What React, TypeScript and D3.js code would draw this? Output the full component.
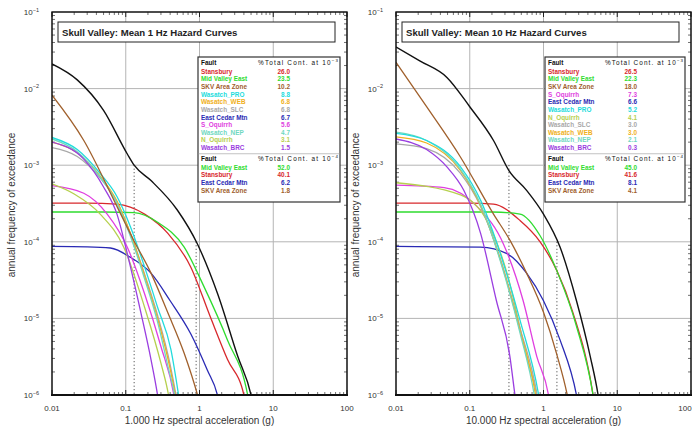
import React from 'react';
import * as d3 from 'd3';

// ---------- axis ticks ----------
const xTickValues = [0.01, 0.1, 1, 10, 100];
const xTickLabels = ['0.01', '0.1', '1', '10', '100'];
const yTickExponents = [-1, -2, -3, -4, -5, -6];

// ---------- fault names & colours ----------
const faultNames = ['Stansbury', 'Mid Valley East', 'SKV Area Zone', 'Wasatch_PRO', 'Wasatch_WEB', 'Wasatch_SLC', 'East Cedar Mtn', 'S_Oquirrh', 'Wasatch_NEP', 'N_Oquirrh', 'Wasatch_BRC'];
const faultColors = ['#d8282c', '#2fdc2f', '#a0602c', '#22dcdc', '#f0b020', '#a8a8a8', '#2a2ab4', '#e03ee0', '#6fd8bf', '#b6d04e', '#9a3ee0'];

// ---------- 1 Hz hazard curves [g, annual freq] ----------
const hz1Total: [number, number][] = [[0.01, 2.1e-2], [0.022, 1.3e-2], [0.05, 5.2e-3], [0.105, 1.4e-3], [0.13, 1.0e-3], [0.22, 6.3e-4], [0.5, 2.6e-4], [0.93, 9.5e-5], [1.76, 2.1e-5], [3.3, 3.2e-6], [5, 1e-6], [6, 4e-7]];
const hz1Stansbury: [number, number][] = [[0.01, 3.2e-4], [0.03, 3.2e-4], [0.076, 3.1e-4], [0.18, 2.3e-4], [0.37, 1.3e-4], [0.76, 4.7e-5], [1.4, 1.05e-5], [2.4, 2.9e-6], [4, 1e-6], [4.8, 4e-7]];
const hz1MidValley: [number, number][] = [[0.01, 2.45e-4], [0.05, 2.45e-4], [0.13, 2.4e-4], [0.27, 1.8e-4], [0.62, 8.5e-5], [1.15, 2.6e-5], [2.4, 5.2e-6], [4.5, 1e-6], [5.3, 4e-7]];
const hz1SKV: [number, number][] = [[0.01, 8.2e-3], [0.027, 2.1e-3], [0.076, 2.9e-4], [0.128, 1.05e-4], [0.22, 3.9e-5], [0.37, 1.2e-5], [0.62, 3.5e-6], [0.94, 1e-6], [1.2, 4e-7]];
const hz1PRO: [number, number][] = [[0.01, 2.3e-3], [0.022, 1.6e-3], [0.045, 7.8e-4], [0.076, 3.9e-4], [0.115, 1.6e-4], [0.18, 4.7e-5], [0.27, 1.4e-5], [0.41, 3.9e-6], [0.52, 1e-6], [0.6, 4e-7]];
const hz1WEB: [number, number][] = [[0.01, 2.0e-3], [0.022, 1.45e-3], [0.045, 7.2e-4], [0.076, 3.4e-4], [0.115, 1.3e-4], [0.18, 3.6e-5], [0.27, 1.0e-5], [0.4, 2.2e-6], [0.47, 1e-6], [0.55, 4e-7]];
const hz1SLC: [number, number][] = [[0.01, 1.7e-3], [0.022, 1.3e-3], [0.045, 6.8e-4], [0.076, 3.3e-4], [0.115, 1.3e-4], [0.18, 3.8e-5], [0.27, 1.1e-5], [0.4, 2.5e-6], [0.48, 1e-6], [0.56, 4e-7]];
const hz1ECM: [number, number][] = [[0.01, 8.7e-5], [0.03, 8.6e-5], [0.062, 8.3e-5], [0.115, 6.3e-5], [0.22, 3.9e-5], [0.4, 1.7e-5], [0.76, 6.3e-6], [1.28, 2.1e-6], [1.75, 1e-6], [2.1, 4e-7]];
const hz1SOquirrh: [number, number][] = [[0.01, 5.4e-4], [0.027, 4.3e-4], [0.056, 2.3e-4], [0.105, 8.5e-5], [0.18, 2.1e-5], [0.3, 4.3e-6], [0.45, 1e-6], [0.52, 4e-7]];
const hz1NEP: [number, number][] = [[0.01, 2.2e-3], [0.022, 1.5e-3], [0.045, 7.0e-4], [0.076, 3.2e-4], [0.115, 1.2e-4], [0.18, 3.3e-5], [0.27, 9e-6], [0.38, 2.2e-6], [0.46, 1e-6], [0.53, 4e-7]];
const hz1NOquirrh: [number, number][] = [[0.01, 5.7e-4], [0.02, 4.2e-4], [0.045, 2.3e-4], [0.094, 8.5e-5], [0.18, 1.4e-5], [0.3, 2.6e-6], [0.38, 1e-6], [0.44, 4e-7]];
const hz1BRC: [number, number][] = [[0.01, 2.0e-3], [0.027, 1.2e-3], [0.05, 5.2e-4], [0.076, 2.3e-4], [0.105, 7e-5], [0.16, 1.2e-5], [0.22, 2.9e-6], [0.27, 1e-6], [0.31, 4e-7]];

// ---------- 10 Hz hazard curves ----------
const hz10Total: [number, number][] = [[0.01, 3.5e-2], [0.021, 2.3e-2], [0.049, 1.4e-2], [0.1, 5.8e-3], [0.21, 2.1e-3], [0.34, 8.5e-4], [0.59, 4.7e-4], [1, 2.3e-4], [1.68, 8.5e-5], [2.8, 1.7e-5], [4.3, 3.2e-6], [5.5, 1e-6], [6.3, 4e-7]];
const hz10Stansbury: [number, number][] = [[0.01, 3.2e-4], [0.1, 3.2e-4], [0.21, 3.1e-4], [0.48, 1.9e-4], [0.9, 1e-4], [1.5, 4.3e-5], [2.5, 1.2e-5], [4.7, 1e-6], [5.4, 4e-7]];
const hz10MidValley: [number, number][] = [[0.01, 2.45e-4], [0.2, 2.45e-4], [0.48, 2.3e-4], [0.9, 1.2e-4], [1.5, 4.3e-5], [2.8, 7.9e-6], [4.7, 1e-6], [5.4, 4e-7]];
const hz10SKV: [number, number][] = [[0.01, 2.2e-2], [0.026, 5.8e-3], [0.074, 1.3e-3], [0.21, 2.3e-4], [0.35, 1.05e-4], [0.59, 3.9e-5], [1, 1.2e-5], [1.5, 3.5e-6], [2.1, 1e-6], [2.5, 4e-7]];
const hz10SOquirrh: [number, number][] = [[0.01, 5.5e-4], [0.045, 5.1e-4], [0.125, 2.9e-4], [0.29, 9.1e-5], [0.53, 1.7e-5], [0.81, 3.2e-6], [1.17, 1e-6], [1.35, 4e-7]];
const hz10ECM: [number, number][] = [[0.01, 8.7e-5], [0.14, 8.5e-5], [0.32, 7e-5], [0.59, 3.9e-5], [1, 1.7e-5], [1.68, 5.2e-6], [2.8, 1e-6], [3.3, 4e-7]];
const hz10PRO: [number, number][] = [[0.01, 2.6e-3], [0.026, 2.1e-3], [0.075, 9.5e-4], [0.14, 3.5e-4], [0.26, 7e-5], [0.48, 9.5e-6], [0.86, 1e-6], [1.0, 4e-7]];
const hz10NOquirrh: [number, number][] = [[0.01, 5.9e-4], [0.075, 4.1e-4], [0.17, 1.9e-4], [0.32, 3.9e-5], [0.59, 3.2e-6], [0.81, 1e-6], [0.95, 4e-7]];
const hz10SLC: [number, number][] = [[0.01, 1.9e-3], [0.026, 1.65e-3], [0.075, 7.8e-4], [0.14, 2.9e-4], [0.26, 6e-5], [0.48, 7.5e-6], [0.82, 1e-6], [0.95, 4e-7]];
const hz10WEB: [number, number][] = [[0.01, 2.35e-3], [0.026, 1.95e-3], [0.075, 8.5e-4], [0.14, 3.0e-4], [0.26, 5.8e-5], [0.48, 7e-6], [0.78, 1e-6], [0.9, 4e-7]];
const hz10NEP: [number, number][] = [[0.01, 2.7e-3], [0.026, 2.1e-3], [0.075, 8.8e-4], [0.14, 3.1e-4], [0.26, 5.6e-5], [0.48, 6.5e-6], [0.75, 1e-6], [0.87, 4e-7]];
const hz10BRC: [number, number][] = [[0.01, 2.2e-3], [0.026, 1.6e-3], [0.049, 9.5e-4], [0.083, 4.7e-4], [0.14, 1.3e-4], [0.23, 1.7e-5], [0.35, 3.2e-6], [0.41, 1e-6], [0.47, 4e-7]];

// ---------- dotted markers [g, top freq] ----------
const hz1Markers: [number, number][] = [[0.13, 1e-3], [0.9, 1e-4]];
const hz10Markers: [number, number][] = [[0.34, 1e-3], [1.52, 1e-4]];

// ---------- legends ----------
const hz1LegendANames = ['Stansbury', 'Mid Valley East', 'SKV Area Zone', 'Wasatch_PRO', 'Wasatch_WEB', 'Wasatch_SLC', 'East Cedar Mtn', 'S_Oquirrh', 'Wasatch_NEP', 'N_Oquirrh', 'Wasatch_BRC'];
const hz1LegendAValues = ['26.0', '23.5', '10.2', '8.8', '6.8', '6.8', '6.7', '5.6', '4.7', '3.1', '1.5'];
const hz1LegendBNames = ['Mid Valley East', 'Stansbury', 'East Cedar Mtn', 'SKV Area Zone'];
const hz1LegendBValues = ['52.0', '40.1', '6.2', '1.8'];
const hz10LegendANames = ['Stansbury', 'Mid Valley East', 'SKV Area Zone', 'S_Oquirrh', 'East Cedar Mtn', 'Wasatch_PRO', 'N_Oquirrh', 'Wasatch_SLC', 'Wasatch_WEB', 'Wasatch_NEP', 'Wasatch_BRC'];
const hz10LegendAValues = ['26.5', '22.3', '18.0', '7.3', '6.6', '5.2', '4.1', '3.0', '3.0', '2.1', '0.3'];
const hz10LegendBNames = ['Mid Valley East', 'Stansbury', 'East Cedar Mtn', 'SKV Area Zone'];
const hz10LegendBValues = ['45.0', '41.6', '8.1', '4.1'];

const colorOf = (name: string) => faultColors[faultNames.indexOf(name)];

const hz1Series = [
  { name: 'Stansbury', data: hz1Stansbury },
  { name: 'Mid Valley East', data: hz1MidValley },
  { name: 'East Cedar Mtn', data: hz1ECM },
  { name: 'S_Oquirrh', data: hz1SOquirrh },
  { name: 'N_Oquirrh', data: hz1NOquirrh },
  { name: 'Wasatch_SLC', data: hz1SLC },
  { name: 'Wasatch_WEB', data: hz1WEB },
  { name: 'Wasatch_NEP', data: hz1NEP },
  { name: 'Wasatch_PRO', data: hz1PRO },
  { name: 'Wasatch_BRC', data: hz1BRC },
  { name: 'SKV Area Zone', data: hz1SKV },
];
const hz10Series = [
  { name: 'Stansbury', data: hz10Stansbury },
  { name: 'Mid Valley East', data: hz10MidValley },
  { name: 'East Cedar Mtn', data: hz10ECM },
  { name: 'S_Oquirrh', data: hz10SOquirrh },
  { name: 'N_Oquirrh', data: hz10NOquirrh },
  { name: 'Wasatch_SLC', data: hz10SLC },
  { name: 'Wasatch_WEB', data: hz10WEB },
  { name: 'Wasatch_NEP', data: hz10NEP },
  { name: 'Wasatch_PRO', data: hz10PRO },
  { name: 'Wasatch_BRC', data: hz10BRC },
  { name: 'SKV Area Zone', data: hz10SKV },
];

const FONT = '"Liberation Sans", Arial, Helvetica, sans-serif';

type PanelProps = {
  id: string;
  x0: number;
  title: string;
  xlabel: string;
  series: { name: string; data: [number, number][] }[];
  total: [number, number][];
  markers: [number, number][];
  legANames: string[];
  legAValues: string[];
  legBNames: string[];
  legBValues: string[];
  legLeft: number;
  legRight: number;
  lastLabelShift: number;
};

function Panel(p: PanelProps) {
  const W = 295;
  const top = 12;
  const bottom = 395;
  const x = d3.scaleLog().domain([0.01, 100]).range([p.x0, p.x0 + W]);
  const y = d3.scaleLog().domain([1e-6, 1e-1]).range([bottom, top]);
  const line = d3
    .line<[number, number]>()
    .x((d) => x(d[0]))
    .y((d) => y(d[1]))
    .curve(d3.curveMonotoneX);

  const xMinor: number[] = [];
  for (let e = -2; e < 2; e++) for (let k = 2; k <= 9; k++) xMinor.push(k * Math.pow(10, e));
  const yMinor: number[] = [];
  for (let e = -6; e < -1; e++) for (let k = 2; k <= 9; k++) yMinor.push(k * Math.pow(10, e));

  const left = p.x0;
  const right = p.x0 + W;
  const rowH = 7.65;
  const legTop = 57;
  const headA = 62.8;
  const rowsA0 = 71.6;
  const headB = rowsA0 + rowH * 11 + 3;
  const rowsB0 = headB + 9;
  const valX = p.legLeft + 92;
  const headW = p.legRight - p.legLeft - 62;

  return (
    <g>
      <defs>
        <clipPath id={p.id}>
          <rect x={left} y={top} width={W} height={bottom - top} />
        </clipPath>
      </defs>
      <rect x={left} y={top} width={W} height={bottom - top} fill="#fff" />
      {/* grid */}
      {xTickValues.map((v) => (
        <line key={'gx' + v} x1={x(v)} x2={x(v)} y1={top} y2={bottom} stroke="#b4b4b4" strokeWidth={1} />
      ))}
      {yTickExponents.map((e) => (
        <line key={'gy' + e} x1={left} x2={right} y1={y(Math.pow(10, e))} y2={y(Math.pow(10, e))} stroke="#b4b4b4" strokeWidth={1} />
      ))}
      {/* minor ticks */}
      {xMinor.map((v) => (
        <g key={'mx' + v}>
          <line x1={x(v)} x2={x(v)} y1={top} y2={top + 3} stroke="#333" strokeWidth={0.7} />
          <line x1={x(v)} x2={x(v)} y1={bottom} y2={bottom - 3} stroke="#333" strokeWidth={0.7} />
        </g>
      ))}
      {yMinor.map((v) => (
        <g key={'my' + v}>
          <line x1={left} x2={left + 3} y1={y(v)} y2={y(v)} stroke="#333" strokeWidth={0.7} />
          <line x1={right} x2={right - 3} y1={y(v)} y2={y(v)} stroke="#333" strokeWidth={0.7} />
        </g>
      ))}
      {xTickValues.map((v) => (
        <g key={'Mx' + v}>
          <line x1={x(v)} x2={x(v)} y1={top} y2={top + 5} stroke="#222" strokeWidth={1} />
          <line x1={x(v)} x2={x(v)} y1={bottom} y2={bottom - 5} stroke="#222" strokeWidth={1} />
        </g>
      ))}
      {/* title box */}
      <rect x={left + 6} y={22} width={W - 18} height={20} fill="#fff" stroke="#222" strokeWidth={1} />
      <text x={left + 10} y={35.8} fontFamily={FONT} fontSize={9.6} fontWeight="bold" fill="#222">
        {p.title}
      </text>
      {/* curves */}
      <g clipPath={`url(#${p.id})`}>
        {p.markers.map((m, i) => (
          <line key={'mk' + i} x1={x(m[0])} x2={x(m[0])} y1={y(m[1])} y2={bottom} stroke="#333" strokeWidth={1} strokeDasharray="1,2.5" />
        ))}
        {p.series.map((s) => (
          <path key={s.name} d={line(s.data) || ''} fill="none" stroke={colorOf(s.name)} strokeWidth={1.3} />
        ))}
        <path d={line(p.total) || ''} fill="none" stroke="#111" strokeWidth={1.4} />
      </g>
      {/* frame */}
      <rect x={left} y={top} width={W} height={bottom - top} fill="none" stroke="#111" strokeWidth={1.4} />
      <line x1={left - 1} x2={right + 1} y1={bottom} y2={bottom} stroke="#111" strokeWidth={2.2} />
      {/* legend */}
      <rect x={p.legLeft} y={legTop} width={p.legRight - p.legLeft} height={202 - legTop} fill="#fff" stroke="#333" strokeWidth={1.2} />
      <text x={p.legLeft + 3} y={headA + 2} fontFamily={FONT} fontSize={6.4} fontWeight="bold" fill="#111">Fault</text>
      <text x={p.legRight - 2} y={headA + 2} fontFamily={FONT} fontSize={6.4} fill="#111" textAnchor="end" textLength={headW} lengthAdjust="spacing">
        %Total Cont. at 10<tspan fontSize={4.4} dy={-2.5}>−3</tspan>
      </text>
      {p.legANames.map((n, i) => (
        <g key={'la' + n}>
          <text x={p.legLeft + 3} y={rowsA0 + i * rowH + 2} fontFamily={FONT} fontSize={6.4} fontWeight="bold" fill={colorOf(n)}>{n}</text>
          <text x={valX} y={rowsA0 + i * rowH + 2} fontFamily={FONT} fontSize={6.4} fontWeight="bold" fill={colorOf(n)} textAnchor="end">{p.legAValues[i]}</text>
        </g>
      ))}
      <line x1={p.legLeft} x2={p.legRight} y1={headB - 5} y2={headB - 5} stroke="#999" strokeWidth={0.6} />
      <text x={p.legLeft + 3} y={headB + 2} fontFamily={FONT} fontSize={6.4} fontWeight="bold" fill="#111">Fault</text>
      <text x={p.legRight - 2} y={headB + 2} fontFamily={FONT} fontSize={6.4} fill="#111" textAnchor="end" textLength={headW} lengthAdjust="spacing">
        %Total Cont. at 10<tspan fontSize={4.4} dy={-2.5}>−4</tspan>
      </text>
      {p.legBNames.map((n, i) => (
        <g key={'lb' + n}>
          <text x={p.legLeft + 3} y={rowsB0 + i * rowH + 2} fontFamily={FONT} fontSize={6.4} fontWeight="bold" fill={colorOf(n)}>{n}</text>
          <text x={valX} y={rowsB0 + i * rowH + 2} fontFamily={FONT} fontSize={6.4} fontWeight="bold" fill={colorOf(n)} textAnchor="end">{p.legBValues[i]}</text>
        </g>
      ))}
      {/* tick labels */}
      {xTickValues.map((v, i) => (
        <text key={'xl' + v} x={x(v) - (i === xTickValues.length - 1 ? p.lastLabelShift : 0)} y={411} fontFamily={FONT} fontSize={8} fill="#333" textAnchor="middle">{xTickLabels[i]}</text>
      ))}
      {yTickExponents.map((e) => (
        <text key={'yl' + e} x={left - 13} y={y(Math.pow(10, e)) + 3} fontFamily={FONT} fontSize={8} fill="#333" textAnchor="end">
          10<tspan fontSize={5.5} dy={-3.5}>{'−' + Math.abs(e)}</tspan>
        </text>
      ))}
      <text x={left + W / 2} y={424} fontFamily={FONT} fontSize={10} fill="#333" textAnchor="middle">{p.xlabel}</text>
      <text transform={`translate(${left - 37},205) rotate(-90)`} fontFamily={FONT} fontSize={10} fill="#333" textAnchor="middle">
        annual frequency of exceedance
      </text>
    </g>
  );
}

export default function App() {
  return (
    <svg width={694} height={428} style={{ position: 'absolute', left: 0, top: 0, background: '#fff' }}>
      <rect x={0} y={0} width={694} height={428} fill="#fff" />
      <Panel
        id="clipA"
        x0={52}
        title="Skull Valley: Mean 1 Hz Hazard Curves"
        xlabel="1.000 Hz spectral acceleration (g)"
        series={hz1Series}
        total={hz1Total}
        markers={hz1Markers}
        legANames={hz1LegendANames}
        legAValues={hz1LegendAValues}
        legBNames={hz1LegendBNames}
        legBValues={hz1LegendBValues}
        legLeft={198}
        legRight={340}
        lastLabelShift={0}
      />
      <Panel
        id="clipB"
        x0={396}
        title="Skull Valley: Mean 10 Hz Hazard Curves"
        xlabel="10.000 Hz spectral acceleration (g)"
        series={hz10Series}
        total={hz10Total}
        markers={hz10Markers}
        legANames={hz10LegendANames}
        legAValues={hz10LegendAValues}
        legBNames={hz10LegendBNames}
        legBValues={hz10LegendBValues}
        legLeft={545}
        legRight={685}
        lastLabelShift={6}
      />
    </svg>
  );
}
